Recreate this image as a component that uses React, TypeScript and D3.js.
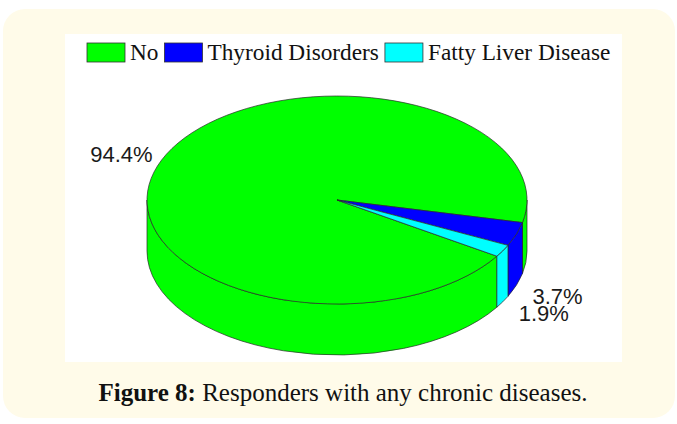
import React from 'react';
import * as d3 from 'd3';

const categories = ['No', 'Thyroid Disorders', 'Fatty Liver Disease'];
const values = [94.4, 3.7, 1.9];
const valueLabels = ['94.4%', '3.7%', '1.9%'];
const colors = ['#00ff00', '#0000ff', '#00ffff'];
const captionBold = 'Figure 8:';
const captionText = ' Responders with any chronic diseases.';

const W = 677;
const H = 424;
const cx = 337;
const cy = 200;
const rx = 190;
const ry = 104;
const depth = 51;
const startDeg = 122.7;

const legendFont = '23.3px "Liberation Serif", "Times New Roman", serif';

function measure(text: string, font: string): number {
  if (typeof document === 'undefined') return text.length * 10;
  const c = document.createElement('canvas');
  const ctx = c.getContext('2d');
  if (!ctx) return text.length * 10;
  ctx.font = font;
  return ctx.measureText(text).width;
}

function pt(theta: number, dy = 0): [number, number] {
  return [cx + rx * Math.cos(theta), cy + ry * Math.sin(theta) + dy];
}

function topPath(t0: number, t1: number): string {
  const p0 = pt(t0);
  const p1 = pt(t1);
  const large = t1 - t0 > Math.PI ? 1 : 0;
  return `M${cx},${cy}L${p0[0]},${p0[1]}A${rx},${ry} 0 ${large} 1 ${p1[0]},${p1[1]}Z`;
}

function sidePath(t0: number, t1: number): string {
  const p0 = pt(t0);
  const p1 = pt(t1);
  const q1 = pt(t1, depth);
  const q0 = pt(t0, depth);
  return `M${p0[0]},${p0[1]}A${rx},${ry} 0 0 1 ${p1[0]},${p1[1]}L${q1[0]},${q1[1]}A${rx},${ry} 0 0 0 ${q0[0]},${q0[1]}Z`;
}

export default function App() {
  const sa = (startDeg * Math.PI) / 180;
  const arcs = d3
    .pie<number>()
    .sort(null)
    .startAngle(sa)
    .endAngle(sa + 2 * Math.PI)(values);

  const slices = arcs.map((a, i) => {
    const t0 = a.startAngle - Math.PI / 2;
    const t1 = a.endAngle - Math.PI / 2;
    const sides: [number, number][] = [];
    for (let k = -1; k <= 2; k++) {
      const lo = Math.max(t0, 2 * Math.PI * k);
      const hi = Math.min(t1, 2 * Math.PI * k + Math.PI);
      if (hi > lo) sides.push([lo, hi]);
    }
    return { i, t0, t1, mid: (t0 + t1) / 2, sides };
  });

  // legend layout
  const boxW = 38;
  const boxH = 19;
  let lx = 87;
  const legendItems = categories.map((c, i) => {
    const x = lx;
    const tw = measure(c, legendFont);
    lx += boxW + 5 + tw + 6;
    return { c, i, x };
  });

  const stroke = '#2a2a2a';

  return (
    <svg
      width={W}
      height={H}
      style={{ position: 'fixed', left: 0, top: 0, display: 'block' }}
    >
      <rect x={0} y={0} width={W} height={H} fill="#ffffff" />
      <rect x={3} y={9} width={672} height={409} rx={22} ry={22} fill="#fffbe9" />
      <rect x={65} y={34} width={557} height={328} fill="#ffffff" />

      {/* legend */}
      {legendItems.map((d) => (
        <g key={d.c}>
          <rect
            x={d.x}
            y={43}
            width={boxW}
            height={boxH}
            fill={colors[d.i]}
            stroke="#333"
            strokeWidth={0.8}
          />
          <text
            x={d.x + boxW + 5}
            y={60}
            style={{ font: legendFont }}
            fill="#111"
          >
            {d.c}
          </text>
        </g>
      ))}

      {/* sides */}
      {slices.map((s) =>
        s.sides.map(([a, b], j) => (
          <path
            key={`side-${s.i}-${j}`}
            d={sidePath(a, b)}
            fill={colors[s.i]}
            stroke={stroke}
            strokeWidth={0.7}
          />
        ))
      )}

      {/* tops */}
      {slices.map((s) => (
        <path
          key={`top-${s.i}`}
          d={topPath(s.t0, s.t1)}
          fill={colors[s.i]}
          stroke={stroke}
          strokeWidth={0.7}
          strokeLinejoin="round"
        />
      ))}

      {/* value labels */}
      {slices.map((s) => {
        const p = pt(s.mid);
        const isLeft = Math.cos(s.mid) < 0;
        const x = isLeft ? p[0] - 9 : p[0] + 16;
        const y = isLeft ? p[1] + 2 : p[1] + depth + 19;
        return (
          <text
            key={`lbl-${s.i}`}
            x={x}
            y={y}
            textAnchor={isLeft ? 'end' : 'start'}
            style={{ font: '22px "Liberation Sans", Arial, sans-serif' }}
            fill="#1a1a1a"
          >
            {valueLabels[s.i]}
          </text>
        );
      })}

      {/* caption */}
      <text
        x={343}
        y={401}
        textAnchor="middle"
        style={{ font: '25px "Liberation Serif", "Times New Roman", serif' }}
        fill="#111"
      >
        <tspan fontWeight="bold">{captionBold}</tspan>
        <tspan>{captionText}</tspan>
      </text>
    </svg>
  );
}
